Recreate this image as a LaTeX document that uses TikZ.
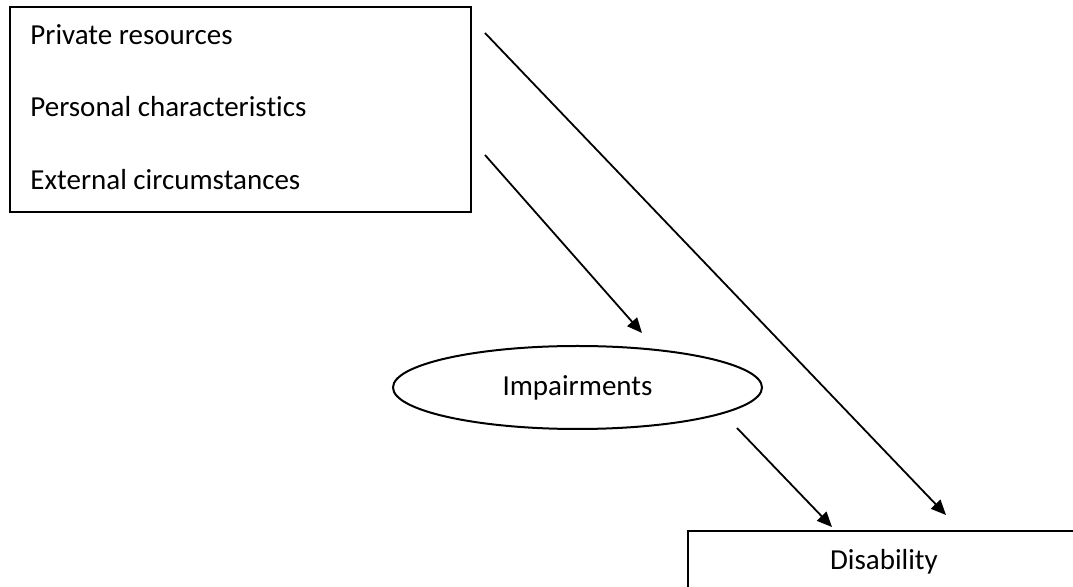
\documentclass[tikz,border=0pt]{standalone}
\usepackage{fontspec}
\setmainfont{Carlito}[Ligatures=NoCommon]
\usetikzlibrary{positioning}
\usetikzlibrary{arrows.meta}
\usetikzlibrary{shapes.geometric}

\tikzset{
  factorbox/.style={draw, line width=1pt, rectangle, inner sep=0pt},
  itemtext/.style={anchor=base west, inner sep=0pt},
  impairoval/.style={draw, line width=1pt, ellipse, inner sep=0pt,
    minimum width=184.5pt, minimum height=41.5pt},
  link/.style={line width=0.9pt, -{Triangle[length=7.5pt,width=6.5pt]}},
}

\begin{document}
\begin{tikzpicture}[x=0.5pt,y=-0.5pt,font=\fontsize{14.5}{17}\selectfont]
\useasboundingbox (0,0) rectangle (1073,587);
\clip (0,0) rectangle (1073,587);

\node [factorbox, minimum width=230.5pt, minimum height=102.5pt] (factors) at (240.5,109.5) {};
\node [itemtext] (resources) at (30,45) {Private resources};
\node [itemtext] (personal) at (30,117) {Personal characteristics};
\node [itemtext] (external) at (30,190) {External circumstances};

\node [impairoval] (impairments) at (577.5,387.5) {Impairments};

\node [factorbox, minimum width=196pt, minimum height=50pt] (disability) at (884,581) {};
\node [anchor=base, inner sep=0pt] (disabilitytext) at (884,570) {Disability};

\coordinate (fromres) at (485,33);
\coordinate (toimp) at (642,333);
\coordinate (fromext) at (485,155);
\coordinate (fromimp) at (737,428);
\coordinate (todisA) at (832,527);
\coordinate (todisB) at (946,515);

\draw [link] (fromres) -- (todisB);
\draw [link] (fromext) -- (toimp);
\draw [link] (fromimp) -- (todisA);
\end{tikzpicture}
\end{document}
